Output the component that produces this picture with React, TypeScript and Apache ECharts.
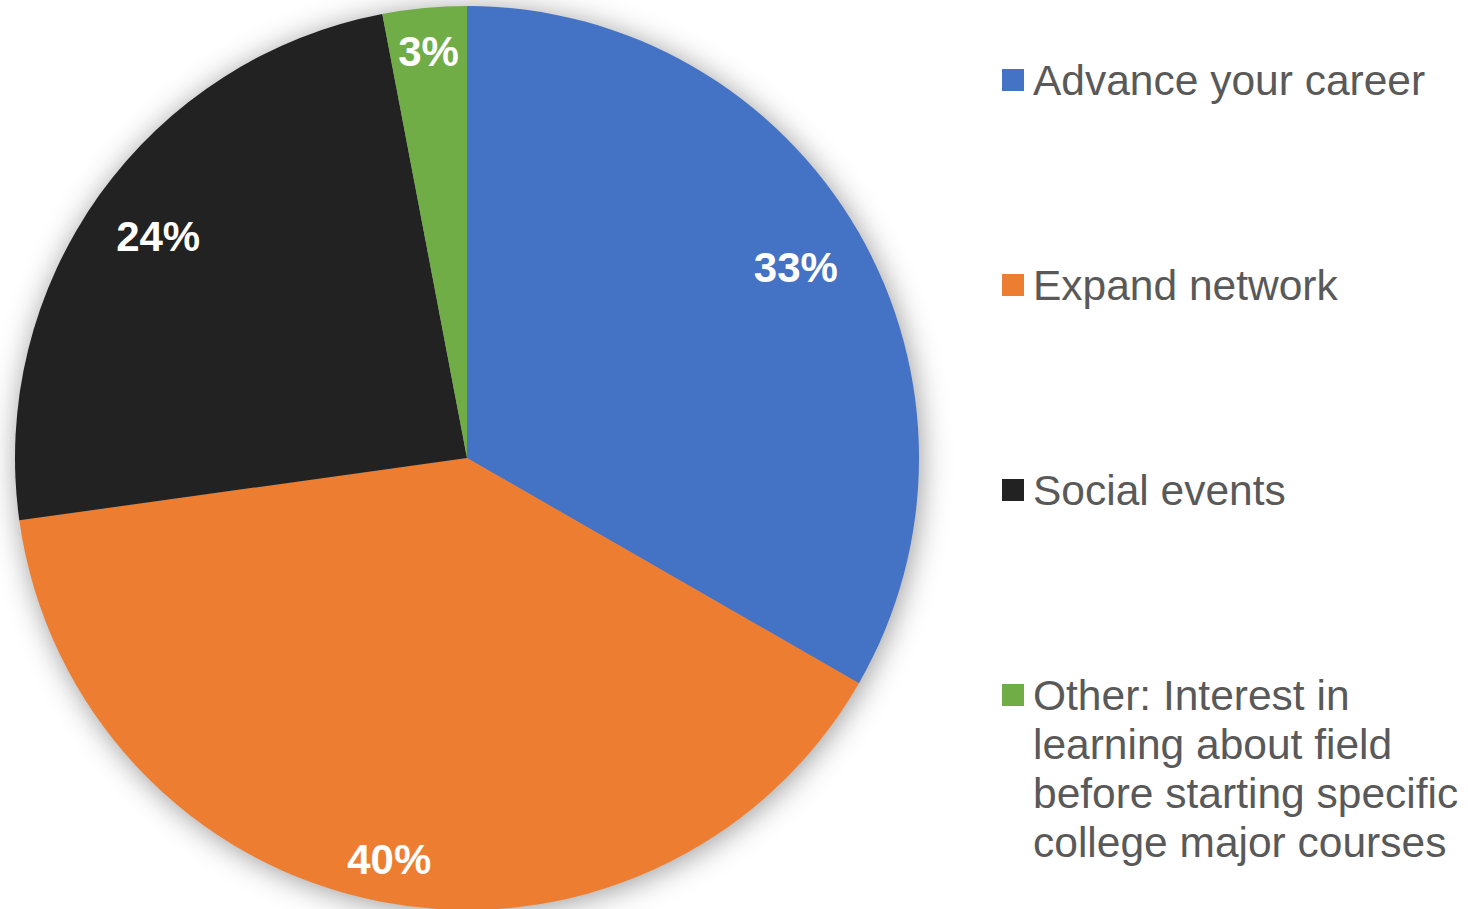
import React, { useEffect, useRef } from "react";
import * as echarts from "echarts";

const categories = [
  "Advance your career",
  "Expand network",
  "Social events",
  "Other: Interest in learning about field before starting specific college major courses",
];
const legendText = [
  "Advance your career",
  "Expand network",
  "Social events",
  "Other: Interest in\nlearning about field\nbefore starting specific\ncollege major courses",
];
const values = [33.3, 39.5, 24.2, 3.0];
const colors = ["#4472C4", "#ED7D31", "#222222", "#70AD47"];
// which label ring each slice's label sits on (Excel best-fit look)
const labelRingA = [true, false, true, false];

const FONT = "'Liberation Sans', Arial, Helvetica, sans-serif";
const CENTER = [467, 458];
const R = 452;
const LINE_H = 49;

// square icon sitting on the first text line of a 4-line legend entry
const tallIcon =
  "path://M0,0L22,0M0,13.5L22,13.5L22,35.5L0,35.5ZM0,196L22,196";

export default function App() {
  const ref = useRef<HTMLDivElement>(null);
  useEffect(() => {
    if (!ref.current) return;
    const chart = echarts.init(ref.current, null, { renderer: "svg" });
    const mainData = categories.map((name, i) => ({
      name,
      value: values[i],
      itemStyle: { color: colors[i] },
    }));
    const labelData = (ringA: boolean) =>
      categories.map((name, i) => ({
        name,
        value: values[i],
        label: { show: labelRingA[i] === ringA },
      }));
    const labelStyle = {
      position: "inside" as const,
      color: "#ffffff",
      fontSize: 42,
      fontWeight: "bold" as const,
      fontFamily: FONT,
      formatter: (p: any) => Math.round(p.value) + "%",
    };
    const textStyle = {
      color: "#595959",
      fontSize: 42.5,
      fontFamily: FONT,
      lineHeight: LINE_H,
      padding: [0, 0, 0, 4],
    };
    const legendBase = {
      orient: "vertical" as const,
      left: 1002,
      padding: 0,
      itemWidth: 22,
      selectedMode: false,
      textStyle,
      formatter: (name: string) => legendText[categories.indexOf(name)],
    };
    chart.setOption({
      animation: false,
      backgroundColor: "#ffffff",
      legend: [
        {
          ...legendBase,
          icon: "rect",
          itemHeight: 22,
          top: 55.5,
          itemGap: 156,
          data: categories.slice(0, 3),
        },
        {
          ...legendBase,
          icon: tallIcon,
          itemHeight: 196,
          top: 670.5,
          data: categories.slice(3),
        },
      ],
      series: [
        {
          type: "pie",
          name: "shadow",
          center: CENTER,
          radius: R - 1,
          silent: true,
          z: 1,
          label: { show: false },
          labelLine: { show: false },
          emphasis: { disabled: true },
          itemStyle: {
            color: "#9a9a9a",
            shadowBlur: 30,
            shadowColor: "rgba(0,0,0,0.42)",
            shadowOffsetX: 2,
            shadowOffsetY: 3,
          },
          data: [{ name: "__bg", value: 1 }],
        },
        {
          type: "pie",
          name: "main",
          center: CENTER,
          radius: R,
          startAngle: 90,
          clockwise: true,
          z: 2,
          silent: true,
          label: { show: false },
          labelLine: { show: false },
          emphasis: { disabled: true },
          itemStyle: { borderWidth: 0 },
          data: mainData,
        },
        {
          type: "pie",
          name: "labelsA",
          center: CENTER,
          radius: [302, R],
          startAngle: 90,
          z: 3,
          silent: true,
          itemStyle: { color: "transparent", borderWidth: 0 },
          label: labelStyle,
          labelLine: { show: false },
          emphasis: { disabled: true },
          data: labelData(true),
        },
        {
          type: "pie",
          name: "labelsB",
          center: CENTER,
          radius: [359, R],
          startAngle: 90,
          z: 3,
          silent: true,
          itemStyle: { color: "transparent", borderWidth: 0 },
          label: labelStyle,
          labelLine: { show: false },
          emphasis: { disabled: true },
          data: labelData(false),
        },
      ],
    });
    return () => chart.dispose();
  }, []);
  return (
    <div
      ref={ref}
      style={{ position: "fixed", left: 0, top: 0, width: 1468, height: 909 }}
    />
  );
}
